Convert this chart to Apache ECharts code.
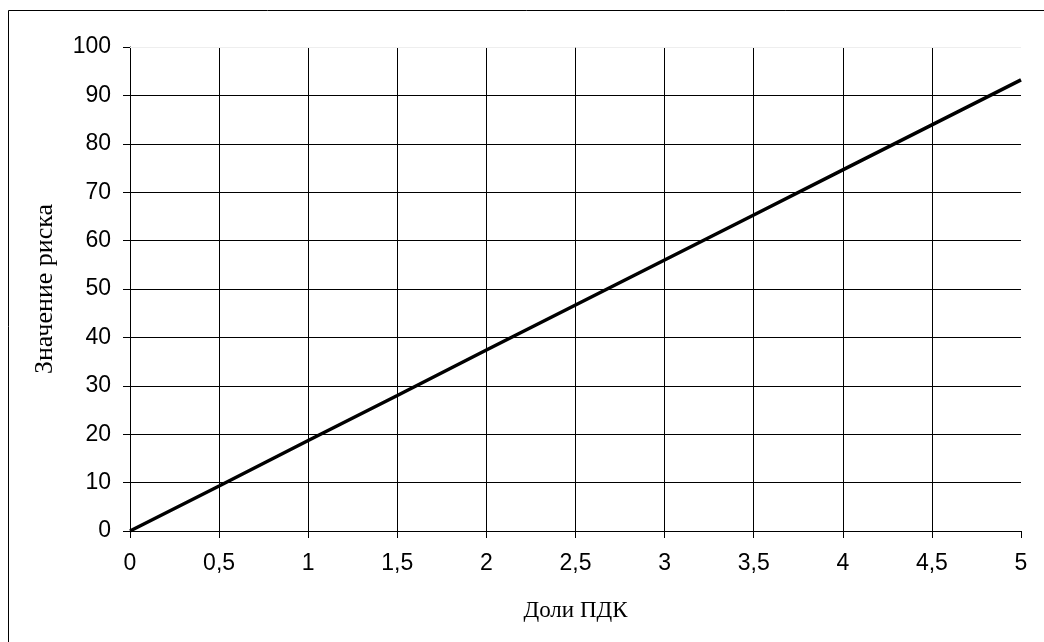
<!DOCTYPE html>
<html>
<head>
<meta charset="utf-8">
<script src="https://cdn.jsdelivr.net/npm/echarts@6/dist/echarts.min.js"></script>
<style>
html,body{margin:0;padding:0;background:#fff;}
#chart{width:1044px;height:642px;}
</style>
</head>
<body>
<div id="chart"></div>
<script>
// Data
var xValues = [0, 0.5, 1, 1.5, 2, 2.5, 3, 3.5, 4, 4.5, 5];
var riskValues = [0, 9.3, 18.7, 28.0, 37.4, 46.7, 56.0, 65.3, 74.6, 83.9, 93.2];
var xAxisName = 'Доли ПДК';
var yAxisName = 'Значение риска';

var seriesData = xValues.map(function (x, i) { return [x, riskValues[i]]; });

var chart = echarts.init(document.getElementById('chart'), null, {renderer: 'canvas'});
chart.setOption({
  animation: false,
  backgroundColor: '#ffffff',
  graphic: [{
    type: 'rect',
    shape: {x: 8.5, y: 10.5, width: 1200, height: 800},
    style: {fill: 'none', stroke: '#000000', lineWidth: 1},
    silent: true
  }],
  grid: {left: 130, right: 23, top: 47, bottom: 111, containLabel: false},
  xAxis: {
    type: 'value',
    min: 0, max: 5, interval: 0.5,
    name: xAxisName,
    nameLocation: 'middle',
    nameGap: 68,
    nameTextStyle: {fontFamily: 'Liberation Serif', fontSize: 23, color: '#000'},
    axisLine: {show: true, onZero: false, lineStyle: {color: '#000', width: 1}},
    axisTick: {show: true, length: 7, lineStyle: {color: '#000'}},
    axisLabel: {
      fontFamily: 'Liberation Sans', fontSize: 23, color: '#000', margin: 21,
      formatter: function (v) { return String(v).replace('.', ','); }
    },
    splitLine: {show: true, showMaxLine: false, lineStyle: {color: '#000', width: 1}}
  },
  yAxis: {
    type: 'value',
    min: 0, max: 100, interval: 10,
    name: yAxisName,
    nameLocation: 'middle',
    nameGap: 72,
    nameTextStyle: {fontFamily: 'Liberation Serif', fontSize: 26, color: '#000'},
    axisLine: {show: true, lineStyle: {color: '#000', width: 1}},
    axisTick: {show: true, length: 7, lineStyle: {color: '#000'}},
    axisLabel: {fontFamily: 'Liberation Sans', fontSize: 23, color: '#000', margin: 19},
    splitLine: {show: true, showMaxLine: false, lineStyle: {color: '#000', width: 1}}
  },
  series: [{
    type: 'line',
    data: seriesData,
    showSymbol: false,
    symbol: 'none',
    lineStyle: {color: '#000', width: 3.5},
    z: 5,
    markLine: {
      silent: true,
      symbol: 'none',
      label: {show: false},
      lineStyle: {color: '#eeeeee', width: 1, type: 'solid'},
      data: [{yAxis: 100}]
    }
  }]
});
</script>
</body>
</html>
